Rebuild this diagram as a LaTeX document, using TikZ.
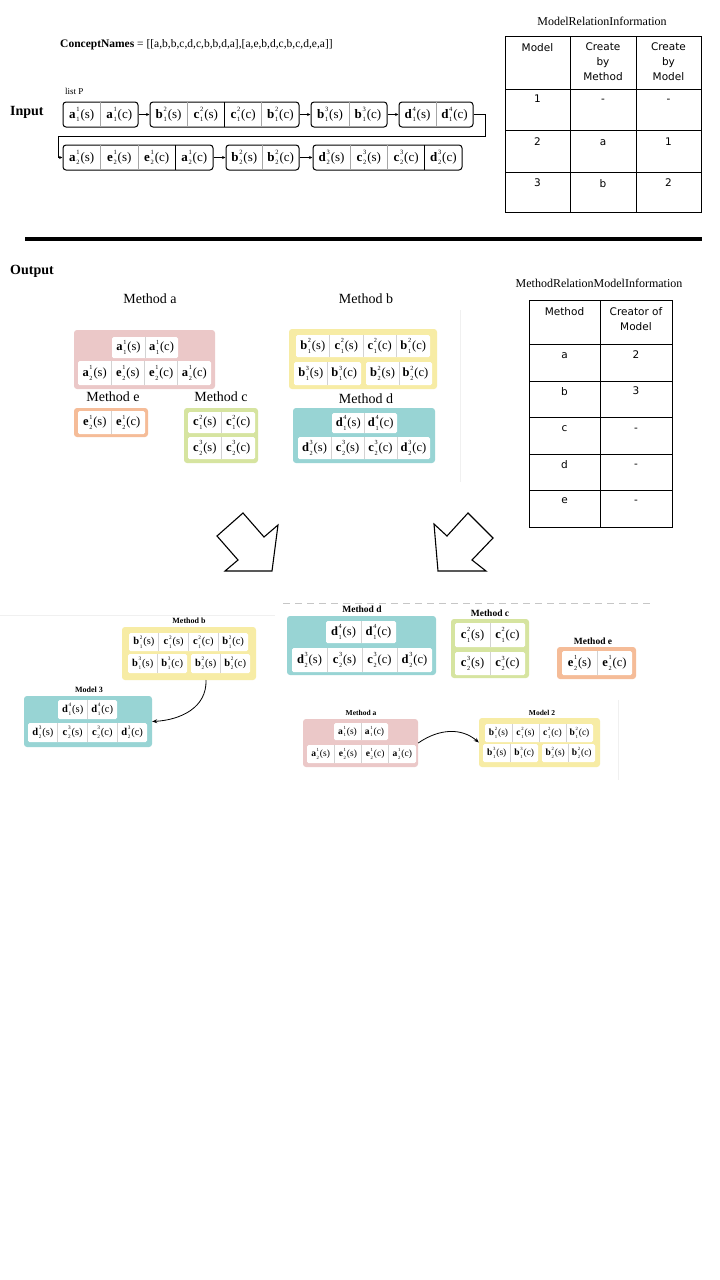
\documentclass[tikz,border=0pt]{standalone}
\usepackage{fontspec}
\setmainfont{Liberation Serif}
\newfontfamily\tabfont{DejaVu Sans}
\usetikzlibrary{arrows.meta}
\definecolor{cpink}{RGB}{235,200,200}
\definecolor{cyel}{RGB}{247,236,165}
\definecolor{cteal}{RGB}{152,212,212}
\definecolor{cgreen}{RGB}{214,228,160}
\definecolor{corange}{RGB}{245,188,152}
\newcommand\fs[1]{\fontsize{#1}{#1}\selectfont}
% cell label: letter, sup, sub, paren; uses \ssz \rup \rdn set by caller
\newcommand\cc[4]{\textbf{#1}\hspace{0.7pt}\rlap{\raisebox{\rup pt}{\fs{\ssz}#2}}\raisebox{-\rdn pt}{\fs{\ssz}#3}\hspace{0.9pt}(#4)}
\newcommand\setsz[1]{\pgfmathsetmacro\ssz{0.5*#1}\pgfmathsetmacro\rup{0.52*#1}\pgfmathsetmacro\rdn{0.3*#1}}
\tikzset{
  divc/.style={gray!35,line width=0.6pt},
  indiv/.style={gray!70,line width=0.6pt},
  darkdiv/.style={black,line width=0.8pt},
  inbx/.style={draw,line width=1pt,rounded corners=3pt,fill=white,inner sep=0pt},
  cbx/.style={rounded corners=3pt,inner sep=0pt},
  lbl/.style={inner sep=0pt},
  sm/.style={-{Stealth[length=3.5pt,width=3pt]},line width=0.7pt},
  tabline/.style={line width=0.8pt},
  tabtxt/.style={inner sep=0pt,font=\tabfont\fontsize{10.5}{15}\selectfont,anchor=north,align=center,execute at begin node=\vphantom{A}},
  bigarrow/.style={line width=1.1pt,line join=miter},
  faint/.style={gray!12,line width=0.6pt},
  cur/.style={-{Stealth[length=5pt,width=4pt]},line width=0.8pt}
}
% group of white cells: x0 y0 x1 y1 n fontsize list prefix
\newcommand\grp[8]{%
  \fill[white,rounded corners=1.5pt] (#1,#2) rectangle (#3,#4);
  \pgfmathsetmacro\cw{(#3-#1)/#5}%
  \setsz{#6}%
  \foreach \la/\sa/\sb/\pa [count=\i] in {#7} {%
    \node[lbl,font=\fs{#6}] (#8\i) at ({#1+(\i-0.5)*\cw},{(#2+#4)/2}) {\cc{\la}{\sa}{\sb}{\pa}};
    \ifnum\i<#5 \draw[divc] ({#1+\i*\cw},#2) -- ({#1+\i*\cw},#4);\fi
  }%
}
% input box: name x0 y0 x1 y1 n list darkindex
\newcommand\inbox[8]{%
  \node[inbx,minimum width={#4-#2},minimum height={#5-#3}] (#1) at ({(#2+#4)/2},{(#3+#5)/2}) {};
  \pgfmathsetmacro\cw{(#4-#2)/#6}%
  \setsz{13}%
  \foreach \la/\sa/\sb/\pa [count=\i] in {#7} {%
    \node[lbl,font=\fs{13}] (#1t\i) at ({#2+(\i-0.5)*\cw},{(#3+#5)/2}) {\cc{\la}{\sa}{\sb}{\pa}};
    \ifnum\i<#6
      \ifnum\i=#8 \draw[darkdiv] ({#2+\i*\cw},#3) -- ({#2+\i*\cw},#5);
      \else \draw[indiv] ({#2+\i*\cw},#3) -- ({#2+\i*\cw},#5);\fi
    \fi
  }%
}
% coloured box: name colour x0 y0 x1 y1
\newcommand\cbox[6]{%
  \node[cbx,fill=#2,minimum width={#5-#3},minimum height={#6-#4}] (#1) at ({(#3+#5)/2},{(#4+#6)/2}) {};
}
\begin{document}
\begin{tikzpicture}[x=1pt,y=-1pt]
\useasboundingbox (0,0) rectangle (720,1280);
\fill[white] (0,0) rectangle (720,1280);

% ---------- Input ----------
\node[lbl,anchor=west,font=\fs{11.5}] (cn) at (60,45) {\textbf{ConceptNames} = [[a,b,b,c,d,c,b,b,d,a],[a,e,b,d,c,b,c,d,e,a]]};
\node[lbl,anchor=west,font=\fs{9}] (lp) at (65,91) {list P};
\node[lbl,anchor=west,font=\fs{14}\bfseries] (inp) at (10,112) {Input};

\inbox{b1}{63}{102}{138}{127}{2}{a/1/1/s,a/1/1/c}{0}
\inbox{b2}{150}{102}{299}{127}{4}{b/2/1/s,c/2/1/s,c/2/1/c,b/2/1/c}{2}
\inbox{b3}{311}{102}{387}{127}{2}{b/3/1/s,b/3/1/c}{0}
\inbox{b4}{399}{102}{473}{127}{2}{d/4/1/s,d/4/1/c}{0}
\inbox{b5}{63}{145}{213}{170}{4}{a/1/2/s,e/1/2/s,e/1/2/c,a/1/2/c}{3}
\inbox{b6}{226}{145}{299}{170}{2}{b/2/2/s,b/2/2/c}{0}
\inbox{b7}{313}{145}{462}{170}{4}{d/3/2/s,c/3/2/s,c/3/2/c,d/3/2/c}{3}

\draw[sm] (b1.east) -- (b2.west);
\draw[sm] (b2.east) -- (b3.west);
\draw[sm] (b3.east) -- (b4.west);
\coordinate (w1) at (485,114.5);
\coordinate (w2) at (485,136);
\coordinate (w3) at (58,136);
\coordinate (w4) at (58,157.5);
\draw[sm] (b4.east) -- (w1) -- (w2) -- (w3) -- (w4) -- (b5.west);
\draw[sm] (b5.east) -- (b6.west);
\draw[sm] (b6.east) -- (b7.west);

% ---------- Table 1 ----------
\node[lbl,font=\fs{12}] (t1t) at (602,21) {ModelRelationInformation};
\draw[tabline] (505,36) rectangle (701,212);
\foreach \xx in {570,636} \draw[tabline] (\xx,36) -- (\xx,212);
\foreach \yy in {89,130,172} \draw[tabline] (505,\yy) -- (701,\yy);
\begin{scope}[every node/.style={tabtxt}]
\node (h11) at (537.5,43) {Model};
\node (h12) at (603,43) {Create\\by\\Method};
\node (h13) at (668.5,43) {Create\\by\\Model};
\node (r11) at (537.5,95) {1};
\node (r12) at (603,95) {-};
\node (r13) at (668.5,95) {-};
\node (r21) at (537.5,138) {2};
\node (r22) at (603,138) {a};
\node (r23) at (668.5,138) {1};
\node (r31) at (537.5,179) {3};
\node (r32) at (603,179) {b};
\node (r33) at (668.5,179) {2};
\end{scope}

% separator
\draw[line width=3.5pt] (25,239) -- (702,239);

% ---------- Output ----------
\node[lbl,anchor=west,font=\fs{14}\bfseries] (outp) at (10,271) {Output};

% Table 2
\node[lbl,font=\fs{12}] (t2t) at (599,283) {MethodRelationModelInformation};
\draw[tabline] (529,300) rectangle (672,527);
\draw[tabline] (600,300) -- (600,527);
\foreach \yy in {344,381,417,454,490} \draw[tabline] (529,\yy) -- (672,\yy);
\begin{scope}[every node/.style={tabtxt}]
\node (g11) at (564.5,307) {Method};
\node (g12) at (636,307) {Creator of\\Model};
\node (g21) at (564.5,351) {a};
\node (g22) at (636,351) {2};
\node (g31) at (564.5,387) {b};
\node (g32) at (636,387) {3};
\node (g41) at (564.5,424) {c};
\node (g42) at (636,424) {-};
\node (g51) at (564.5,460) {d};
\node (g52) at (636,460) {-};
\node (g61) at (564.5,496) {e};
\node (g62) at (636,496) {-};
\end{scope}

% faint frame remnant
\draw[faint] (460,310) -- (460,482);

% Method a
\node[lbl,font=\fs{14}] (lma) at (150,299) {Method a};
\cbox{ma}{cpink}{74}{330}{215}{389}
\grp{112}{337}{178}{358}{2}{12.5}{a/1/1/s,a/1/1/c}{maA}
\grp{78}{361}{211}{385}{4}{12.5}{a/1/2/s,e/1/2/s,e/1/2/c,a/1/2/c}{maB}
% Method e
\node[lbl,font=\fs{14}] (lme) at (113,397) {Method e};
\cbox{me}{corange}{74}{408}{148}{437}
\grp{78}{411}{145}{434}{2}{12.5}{e/1/2/s,e/1/2/c}{meA}
% Method c
\node[lbl,font=\fs{14}] (lmc) at (221,397) {Method c};
\cbox{mc}{cgreen}{184}{408}{258}{463}
\grp{188}{412}{255}{433}{2}{12.5}{c/2/1/s,c/2/1/c}{mcA}
\grp{188}{437}{255}{459}{2}{12.5}{c/3/2/s,c/3/2/c}{mcB}
% Method b
\node[lbl,font=\fs{14}] (lmb) at (366,299) {Method b};
\cbox{mb}{cyel}{289}{329}{437}{389}
\grp{296}{335}{430}{357}{4}{12.5}{b/2/1/s,c/2/1/s,c/2/1/c,b/2/1/c}{mbA}
\grp{294}{362}{361}{385}{2}{12.5}{b/3/1/s,b/3/1/c}{mbB}
\grp{366}{362}{432}{385}{2}{12.5}{b/2/2/s,b/2/2/c}{mbC}
% Method d
\node[lbl,font=\fs{14}] (lmd) at (366,399) {Method d};
\cbox{md}{cteal}{293}{408}{435}{463}
\grp{332}{413}{397}{433}{2}{12.5}{d/4/1/s,d/4/1/c}{mdA}
\grp{298}{437}{430}{459}{4}{12.5}{d/3/2/s,c/3/2/s,c/3/2/c,d/3/2/c}{mdB}

% big arrows
\draw[bigarrow] (243,513) -- (264,537) -- (278,525) -- (272,571) -- (225,571) -- (238,560) -- (217,536) -- cycle;
\draw[bigarrow] (468,513) -- (493,538) -- (472,560) -- (486,571) -- (438,571) -- (434,524) -- (447,536) -- cycle;

% ---------- bottom left ----------
\draw[faint] (0,615) -- (275,615);
\node[lbl,font=\fs{8}\bfseries] (lbb) at (189,621) {Method b};
\cbox{bb}{cyel}{122}{627}{256}{680}
\grp{129}{633}{248}{651}{4}{10.5}{b/2/1/s,c/2/1/s,c/2/1/c,b/2/1/c}{bbA}
\grp{128}{654}{187}{673}{2}{10.5}{b/3/1/s,b/3/1/c}{bbB}
\grp{191}{654}{250}{673}{2}{10.5}{b/2/2/s,b/2/2/c}{bbC}
\node[lbl,font=\fs{8}\bfseries] (lm3) at (89,690) {Model 3};
\cbox{m3}{cteal}{24}{696}{152}{747}
\grp{58}{700}{117}{719}{2}{10.5}{d/4/1/s,d/4/1/c}{m3A}
\grp{28}{723}{147}{742}{4}{10.5}{d/3/2/s,c/3/2/s,c/3/2/c,d/3/2/c}{m3B}
\coordinate (s1) at (206,680);
\draw[cur] (s1) .. controls (207,708) and (180,720) .. (m3.east);

% ---------- bottom right ----------
\draw[gray!45,line width=0.8pt,dash pattern=on 7pt off 5pt] (283,603) -- (650,603);
\draw[faint] (618,700) -- (618,780);
\node[lbl,font=\fs{9.5}\bfseries] (ldd) at (362,609) {Method d};
\cbox{dd}{cteal}{287}{616}{436}{675}
\grp{326}{621}{396}{643}{2}{12.5}{d/4/1/s,d/4/1/c}{ddA}
\grp{292}{648}{432}{672}{4}{12.5}{d/3/2/s,c/3/2/s,c/3/2/c,d/3/2/c}{ddB}
\node[lbl,font=\fs{9.5}\bfseries] (ldc) at (490,613) {Method c};
\cbox{dc}{cgreen}{451}{619}{529}{678}
\grp{455}{623}{525}{647}{2}{12.5}{c/2/1/s,c/2/1/c}{dcA}
\grp{455}{652}{525}{675}{2}{12.5}{c/3/2/s,c/3/2/c}{dcB}
\node[lbl,font=\fs{9.5}\bfseries] (lde) at (593,641) {Method e};
\cbox{de}{corange}{557}{647}{636}{679}
\grp{562}{651}{632}{675}{2}{12.5}{e/1/2/s,e/1/2/c}{deA}
\node[lbl,font=\fs{7.5}\bfseries] (lda) at (361,713) {Method a};
\cbox{da}{cpink}{303}{719}{418}{767}
\grp{334}{723}{388}{740}{2}{9.5}{a/1/1/s,a/1/1/c}{daA}
\grp{307}{745}{416}{763}{4}{9.5}{a/1/2/s,e/1/2/s,e/1/2/c,a/1/2/c}{daB}
\node[lbl,font=\fs{7.5}\bfseries] (lm2) at (542,713) {Model 2};
\cbox{m2}{cyel}{479}{718}{600}{767}
\grp{485}{724}{593}{742}{4}{9.5}{b/2/1/s,c/2/1/s,c/2/1/c,b/2/1/c}{m2A}
\grp{483}{744}{538}{762}{2}{9.5}{b/3/1/s,b/3/1/c}{m2B}
\grp{542}{744}{595}{762}{2}{9.5}{b/2/2/s,b/2/2/c}{m2C}
\draw[cur] (da.east) .. controls (440,728) and (462,728) .. (m2.west);
\end{tikzpicture}
\end{document}
